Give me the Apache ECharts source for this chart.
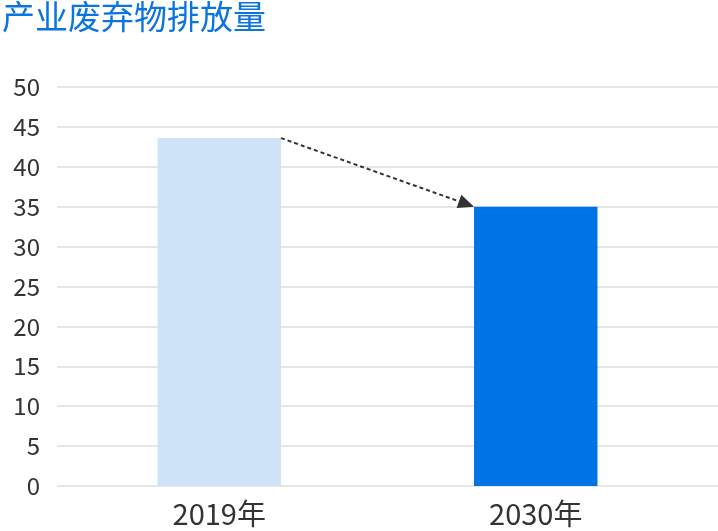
<!DOCTYPE html>
<html>
<head>
<meta charset="UTF-8">
<title>产业废弃物排放量</title>
<script src="https://cdn.jsdelivr.net/npm/echarts@6/dist/echarts.min.js"></script>
<style>
  html, body { margin: 0; padding: 0; background: #fff; }
  #main { width: 718px; height: 531px; }
</style>
</head>
<body>
<div id="main"></div>
<script>
var years = ['2019年', '2030年'];
var emissions = [43.6, 35];
var barColors = ['#cfe3f8', '#0073e6'];
var yTicks = [0, 50, 5];   // min, max, interval

var FONT = '"Noto Sans CJK JP", "Noto Sans", sans-serif';
var BAR_RATIO = 0.39;

var chart = echarts.init(document.getElementById('main'));

var option = {
  animation: false,
  title: {
    text: '产业废弃物排放量',
    left: -3,
    top: -5,
    textStyle: { color: '#0a74df', fontSize: 33, fontWeight: 'normal', fontFamily: FONT }
  },
  grid: [
    { left: 61, right: 24, top: 87, bottom: 45 },   // bars
    { left: 57, right: 0, top: 87, bottom: 45 }     // background lines only
  ],
  xAxis: [
    {
      type: 'category', gridIndex: 0, data: years,
      axisLine: { show: false }, axisTick: { show: false },
      axisLabel: { color: '#333', fontSize: 29, fontFamily: FONT, margin: 13 }
    },
    { type: 'category', gridIndex: 1, show: false, data: years }
  ],
  yAxis: [
    {
      type: 'value', gridIndex: 0, min: yTicks[0], max: yTicks[1], interval: yTicks[2],
      axisLine: { show: false }, axisTick: { show: false }, splitLine: { show: false },
      axisLabel: { color: '#333', fontSize: 24, fontFamily: FONT, margin: 21 }
    },
    {
      type: 'value', gridIndex: 1, min: yTicks[0], max: yTicks[1], interval: yTicks[2],
      axisLine: { show: false }, axisTick: { show: false }, axisLabel: { show: false },
      splitLine: { lineStyle: { color: '#dedede', width: 1.5 } }
    }
  ],
  series: [
    {
      type: 'bar', xAxisIndex: 0, yAxisIndex: 0, z: 3,
      barWidth: (BAR_RATIO * 100) + '%',
      data: emissions.map(function (v, i) {
        return { value: v, itemStyle: { color: barColors[i] } };
      })
    },
    {
      // dotted arrow from the top-right corner of the first bar to the top-left of the second
      type: 'custom', xAxisIndex: 0, yAxisIndex: 0, z: 5,
      data: [[0, emissions[0], 1, emissions[1]]],
      renderItem: function (params, api) {
        var half = api.size([1, 0])[0] * BAR_RATIO / 2;
        var a = api.coord([api.value(0), api.value(1)]);
        var b = api.coord([api.value(2), api.value(3)]);
        var x1 = a[0] + half, y1 = a[1];
        var x2 = b[0] - half, y2 = b[1];
        var ang = Math.atan2(y2 - y1, x2 - x1);
        var len = 16, w = 7;
        var bx = x2 - len * Math.cos(ang), by = y2 - len * Math.sin(ang);
        var nx = -Math.sin(ang) * w, ny = Math.cos(ang) * w;
        return {
          type: 'group',
          children: [
            {
              type: 'line',
              shape: { x1: x1, y1: y1, x2: bx, y2: by },
              style: { stroke: '#333', lineWidth: 2, lineDash: [4, 3] }
            },
            {
              type: 'polygon',
              shape: { points: [[x2, y2], [bx + nx, by + ny], [bx - nx, by - ny]] },
              style: { fill: '#333' }
            }
          ]
        };
      }
    }
  ]
};

chart.setOption(option);
</script>
</body>
</html>
